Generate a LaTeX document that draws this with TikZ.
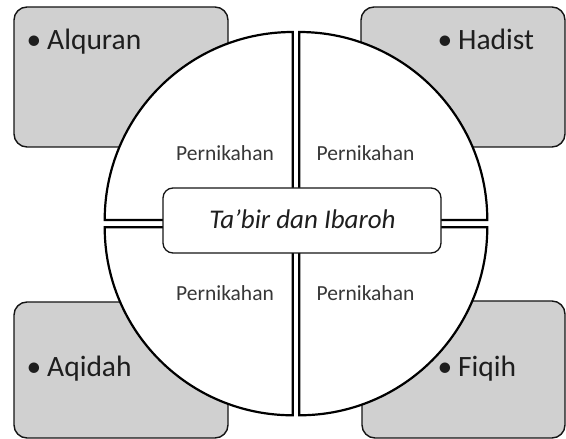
\documentclass[tikz,border=0pt]{standalone}
\usepackage{fontspec}
\setmainfont{Carlito}
\definecolor{boxgray}{RGB}{208,208,208}
\definecolor{edgedark}{RGB}{20,20,20}
\definecolor{txtdark}{RGB}{30,30,30}
\definecolor{txtmid}{RGB}{55,55,55}
\begin{document}
\begin{tikzpicture}[x=1pt,y=1pt,
  cornerbox/.style={fill=boxgray,draw=edgedark,line width=1.4pt,rounded corners=13pt},
  sector/.style={fill=white,draw=black,line width=2.2pt,line join=miter},
  centerbox/.style={fill=white,draw=edgedark,line width=1.3pt,rounded corners=10pt},
  cornerlabel/.style={anchor=base west,inner sep=0pt,text=txtdark,font=\fontsize{29.5}{34}\selectfont},
  quadlabel/.style={anchor=base,inner sep=0pt,text=txtmid,font=\fontsize{21.5}{25}\selectfont},
  titlelabel/.style={anchor=base,inner sep=0pt,text=txtdark,font=\fontsize{27}{31}\selectfont\itshape}]
\useasboundingbox (0,0) rectangle (566,439);
% corner boxes
\draw[cornerbox] (14,292) rectangle (228,432);
\draw[cornerbox] (361,292) rectangle (565,432);
\draw[cornerbox] (14,1) rectangle (228,137);
\draw[cornerbox] (362,1) rectangle (565,138);
% quadrants
\draw[sector] (292.7,219) -- ++(-188,0) arc[start angle=180,end angle=90,radius=188] -- cycle;
\draw[sector] (299.3,219) -- ++(0,188) arc[start angle=90,end angle=0,radius=188] -- cycle;
\draw[sector] (292.7,211.7) -- ++(-188,0) arc[start angle=180,end angle=270,radius=188] -- cycle;
\draw[sector] (299.3,211.7) -- ++(188,0) arc[start angle=0,end angle=-90,radius=188] -- cycle;
% center box
\draw[centerbox] (163,186) rectangle (441,251);
% labels
\node[cornerlabel] (alq) at (47,389.7) {\llap{•\kern6pt}Alquran};
\node[cornerlabel] (had) at (458,389.7) {\llap{•\kern6pt}Hadist};
\node[cornerlabel] (aqi) at (47,62.3) {\llap{•\kern6pt}Aqidah};
\node[cornerlabel] (fiq) at (458,62.3) {\llap{•\kern6pt}Fiqih};
\node[quadlabel] (p1) at (225,278) {Pernikahan};
\node[quadlabel] (p2) at (365.5,278) {Pernikahan};
\node[quadlabel] (p3) at (225,138) {Pernikahan};
\node[quadlabel] (p4) at (365.5,138) {Pernikahan};
\node[titlelabel] (title) at (302.5,210.7) {Ta’bir dan Ibaroh};
\end{tikzpicture}
\end{document}
